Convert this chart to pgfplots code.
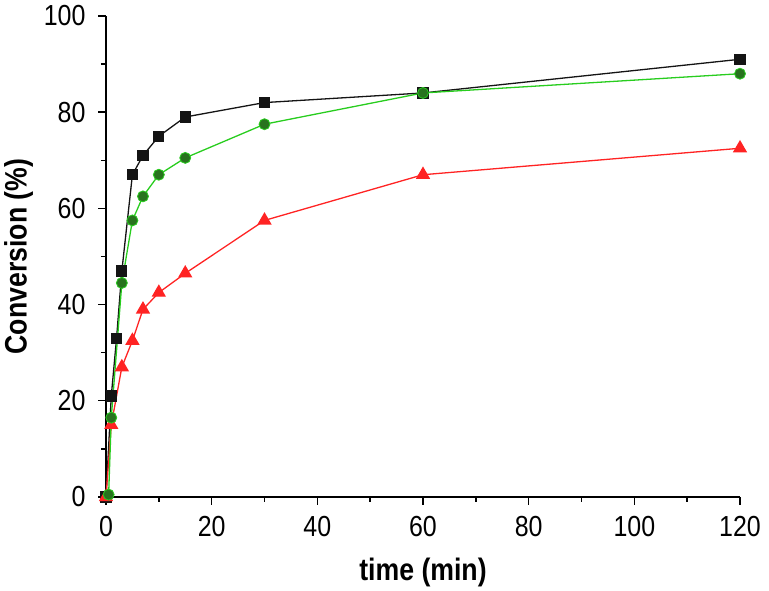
\documentclass[border=0pt]{standalone}
\usepackage{pgfplots}
\pgfplotsset{compat=1.18}
\usepackage{fontspec}
\setmainfont{Liberation Sans}[FakeStretch=0.86]
\definecolor{cblack}{RGB}{20,20,20}
\definecolor{cgreenline}{RGB}{40,205,30}
\definecolor{cgreenfill}{RGB}{40,115,30}
\definecolor{cred}{RGB}{255,35,35}
\begin{document}
\begin{tikzpicture}
\begin{axis}[
  scale only axis,
  width=634pt, height=481pt,
  xmin=0, xmax=120, ymin=0, ymax=100,
  axis x line*=bottom, axis y line*=left,
  axis line style={line width=1.6pt, -},
  xtick={0,20,...,120}, ytick={0,20,...,100},
  minor x tick num=1, minor y tick num=1,
  tick align=outside,
  major tick length=8pt, minor tick length=5pt,
  tick style={line width=1.4pt, black},
  ticklabel style={font=\fontsize{29}{30}\selectfont},
  xticklabel style={yshift=-8pt},
  yticklabel style={xshift=-9pt},
  /pgf/number format/assume math mode=true,
  xlabel={\bfseries time (min)},
  ylabel={\bfseries Conversion (\%)},
  label style={font=\fontsize{31}{33}\selectfont},
  xlabel style={yshift=-14pt},
  ylabel style={yshift=4pt},
  clip=false,
]
\addplot[cblack, line width=1.3pt, mark=square*, mark size=5pt, mark options={fill=cblack}] coordinates {
(0,0) (1,21) (2,33) (3,47) (5,67) (7,71) (10,75) (15,79) (30,82) (60,84) (120,91)};
\addplot[cred, line width=1.3pt, mark=triangle*, mark size=7pt, mark options={fill=cred}] coordinates {
(0,0) (1,15) (3,27) (5,32.5) (7,39) (10,42.5) (15,46.5) (30,57.5) (60,67) (120,72.5)};
\addplot[cgreenline, line width=1.3pt, mark=*, mark size=5.5pt, mark options={fill=cgreenfill, draw=cgreenline, line width=0.8pt}] coordinates {
(0.5,0.5) (1,16.5) (3,44.5) (5,57.5) (7,62.5) (10,67) (15,70.5) (30,77.5) (60,84) (120,88)};
\end{axis}
\pgfresetboundingbox
\path ([xshift=-106pt,yshift=-94pt]current axis.south west) rectangle ([xshift=29pt,yshift=16pt]current axis.north east);
\end{tikzpicture}
\end{document}
